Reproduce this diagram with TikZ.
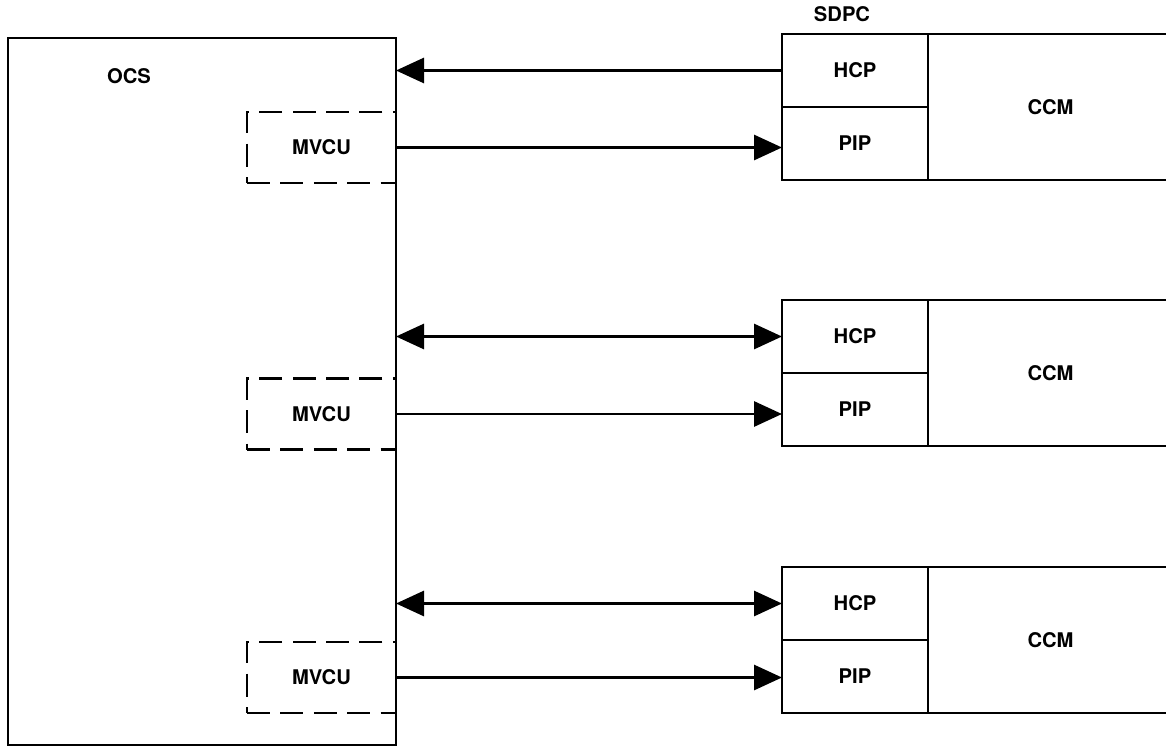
\documentclass[tikz,border=0pt]{standalone}
\usepackage{fontspec}
\setmainfont{TeX Gyre Heros}
\usetikzlibrary{positioning,arrows.meta}
\tikzset{
  blk/.style={draw,line width=1.6pt,inner sep=0pt,outer sep=0pt,font=\fontsize{11.5}{13}\selectfont\bfseries},
  mvcubox/.style={blk,dash pattern=on 13pt off 6pt,minimum width=2.98cm,minimum height=1.42cm},
  lbl/.style={font=\fontsize{11.5}{13}\selectfont\bfseries,inner sep=0pt},
  conn/.style={line width=1.7pt,-{Triangle[length=0.56cm,width=0.5cm]}},
  bothconn/.style={line width=1.7pt,{Triangle[length=0.56cm,width=0.5cm]}-{Triangle[length=0.56cm,width=0.5cm]}}
}
\begin{document}
\begin{tikzpicture}
  \useasboundingbox (0,0) rectangle (23.32,14.94);
  % host side
  \node[blk,minimum width=7.76cm,minimum height=14.14cm,anchor=north west] (ocs) at (0.16,14.18) {};
  \node[lbl] (ocslbl) at (2.58,13.42) {OCS};
  \node[lbl] (sdpc) at (16.84,14.66) {SDPC};
  % one MVCU and one SDPC per row
  \foreach \i/\ytop/\ymv/\kind in {1/14.26/11.99/conn, 2/8.94/6.66/bothconn, 3/3.60/1.39/bothconn}{
    \node[mvcubox,anchor=east] (mvcu\i) at (7.92,\ymv) {MVCU};
    \node[blk,minimum width=2.92cm,minimum height=1.46cm,anchor=north west] (hcp\i) at (15.64,\ytop) {HCP};
    \node[blk,minimum width=2.92cm,minimum height=1.46cm,anchor=north] (pip\i) at (hcp\i.south) {PIP};
    \node[blk,minimum width=4.9cm,minimum height=2.92cm,anchor=north west] (ccm\i) at (hcp\i.north east) {CCM};
    \draw[\kind] (hcp\i.west) -- (hcp\i.west -| ocs.east);
    \draw[conn] (mvcu\i.east) -- (mvcu\i.east -| pip\i.west);
  }
\end{tikzpicture}
\end{document}
